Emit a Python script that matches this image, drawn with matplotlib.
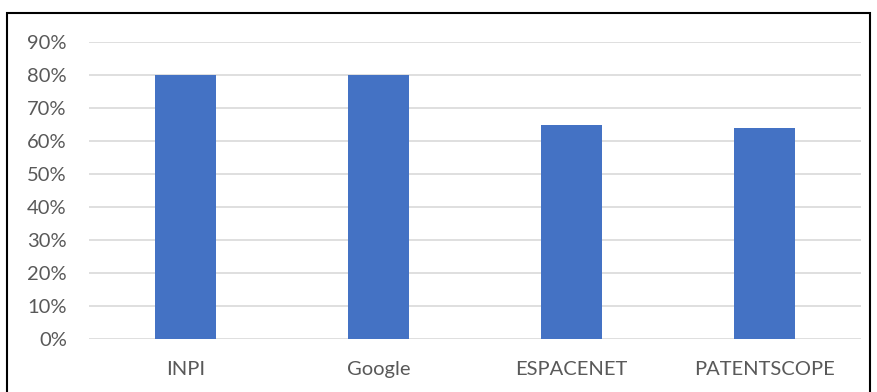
import matplotlib
matplotlib.use("Agg")
import matplotlib.pyplot as plt
from matplotlib.patches import Rectangle
from matplotlib.ticker import FuncFormatter, MultipleLocator

categories = ["INPI", "Google", "ESPACENET", "PATENTSCOPE"]
values = [0.80, 0.80, 0.65, 0.64]

plt.rcParams['font.family'] = ['Lato', 'DejaVu Sans']

W, H = 877, 392
fig = plt.figure(figsize=(W / 100, H / 100), dpi=100)
ax = fig.add_axes([89 / W, 1 - 339 / H, (861 - 89) / W, (339 - 42) / H])

x = list(range(len(categories)))
ax.bar(x, values, width=0.316, color="#4472C4", zorder=3)
ax.set_xlim(-0.5, len(categories) - 0.5)
ax.set_ylim(0, 0.9)
ax.yaxis.set_major_locator(MultipleLocator(0.1))
ax.yaxis.set_major_formatter(FuncFormatter(lambda v, p: f"{round(v * 100)}%"))
ax.set_xticks(x)
ax.set_xticklabels(categories)
ax.grid(axis="y", color="#D9D9D9", linewidth=1.2, zorder=0)
for s in ax.spines.values():
    s.set_visible(False)
ax.tick_params(axis="both", length=0, labelsize=14.5, labelcolor="#595959")
ax.tick_params(axis="y", pad=16)
ax.tick_params(axis="x", pad=16)

fig.patches.append(Rectangle((7 / W, -0.05), (870 - 7) / W, 1 - 13 / H + 0.05,
                             transform=fig.transFigure, fill=False,
                             edgecolor="black", linewidth=1.5))
fig.savefig("out.png", dpi=100)
